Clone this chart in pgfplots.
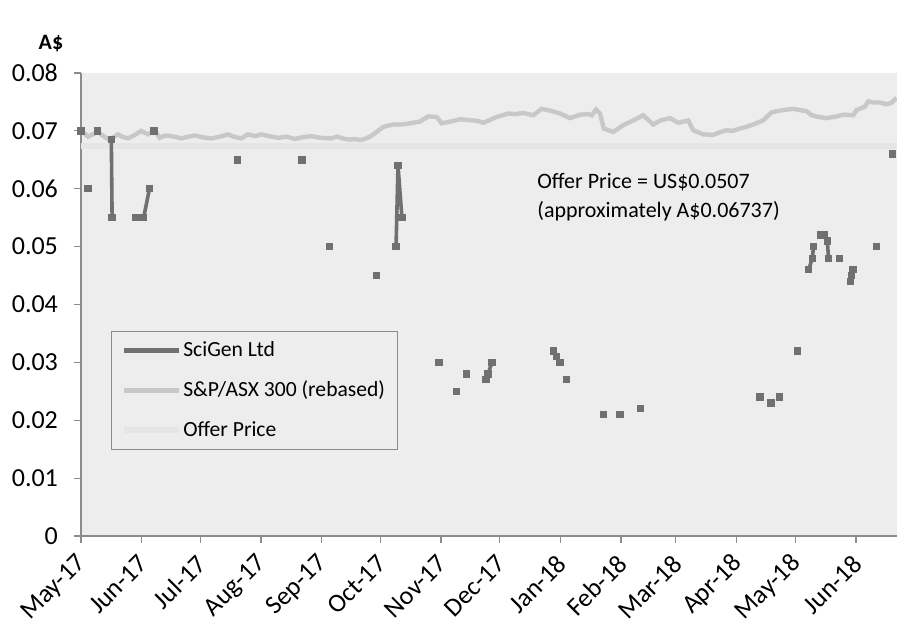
\documentclass[border=0pt]{standalone}
\usepackage{pgfplots}
\pgfplotsset{compat=1.18}
\usepackage{pgfplotstable}
\usepackage{fontspec}
\setmainfont{Carlito}
\definecolor{bgc}{RGB}{237,237,237}
\definecolor{scig}{RGB}{112,112,112}
\definecolor{idxc}{RGB}{200,200,200}
\definecolor{offc}{RGB}{229,229,229}
\definecolor{axc}{RGB}{140,140,140}

\pgfplotstableread{
day val
0 0.070
nan nan
3.6 0.060
nan nan
8.3 0.070
nan nan
15.5 0.0685
15.9 0.055
nan nan
28 0.055
29 0.055
32 0.055
35 0.060
nan nan
37.3 0.070
nan nan
80 0.065
nan nan
113 0.065
nan nan
127 0.050
nan nan
151 0.045
nan nan
161 0.050
162 0.064
164 0.055
nan nan
183 0.030
nan nan
192 0.025
nan nan
197 0.028
nan nan
207 0.027
208 0.028
210 0.030
nan nan
241.4 0.032
243 0.031
244.8 0.030
nan nan
248 0.027
nan nan
267 0.021
nan nan
275.4 0.021
nan nan
286 0.022
nan nan
347 0.024
nan nan
352.7 0.023
nan nan
356.8 0.024
nan nan
366 0.032
nan nan
371.8 0.046
373.8 0.048
374.3 0.050
nan nan
378 0.052
380 0.052
381.4 0.051
382 0.048
nan nan
387.5 0.048
nan nan
393.3 0.044
393.6 0.045
394.6 0.046
nan nan
406.5 0.050
nan nan
414.6 0.066
}\scigen

\pgfplotstableread{
day val
0 0.0701
2 0.0695
3.6 0.0690
6 0.0694
8.7 0.0698
11 0.0692
14.7 0.0684
17 0.0690
18.9 0.0694
21 0.0690
24.0 0.0687
27 0.0692
30.8 0.0700
34.2 0.0694
36 0.0698
37.7 0.0701
40.2 0.0688
43 0.0692
46.1 0.0691
49 0.0689
51.3 0.0687
55 0.0690
58.1 0.0692
62 0.0689
66.6 0.0687
71 0.0690
75.1 0.0694
78 0.0690
81.9 0.0687
85.3 0.0694
89 0.0691
92.1 0.0694
96 0.0691
100.7 0.0688
105 0.0690
109.2 0.0686
113 0.0689
117.7 0.0691
122 0.0688
127.9 0.0687
131 0.0690
134.7 0.0686
137.5 0.0685
140 0.0686
142.6 0.0684
145 0.0686
147.7 0.0690
151 0.0698
154.5 0.0707
157 0.0709
159.6 0.0711
164 0.0711
168.1 0.0713
173.2 0.0716
175 0.0720
177.5 0.0725
181.8 0.0724
184.3 0.0713
188.6 0.0716
193.7 0.0720
197 0.0719
200.3 0.0718
203 0.0717
205.6 0.0714
209 0.0719
212.4 0.0724
218.3 0.0730
222 0.0729
226.0 0.0731
231.1 0.0727
235.4 0.0738
239.7 0.0735
244.8 0.0730
249.9 0.0722
255.0 0.0728
259.2 0.0729
261 0.0727
263.2 0.0737
265.2 0.0730
267.2 0.0704
272.0 0.0698
277.1 0.0710
282.2 0.0718
287.3 0.0727
292.4 0.0711
295.9 0.0718
301.0 0.0722
305.2 0.0714
310.3 0.0718
312.9 0.0701
318.0 0.0694
323.1 0.0693
326 0.0697
329.9 0.0701
333 0.0700
336.7 0.0704
340 0.0707
343.5 0.0711
348.6 0.0718
352.9 0.0732
358.9 0.0736
364.0 0.0738
370.8 0.0734
373.4 0.0727
377 0.0724
381.0 0.0722
386.1 0.0725
389.5 0.0728
394.6 0.0727
396.4 0.0736
400.6 0.0742
402.3 0.0751
405 0.0749
408.3 0.0749
411.7 0.0746
414 0.0748
416.8 0.0757
}\index

\pgfplotstableread{
day val
0 0.06737
417 0.06737
}\offer

\begin{document}
\begin{tikzpicture}
\begin{axis}[
  scale only axis,
  width=408pt, height=231.5pt,
  xmin=0, xmax=417, ymin=0, ymax=0.08,
  axis x line*=bottom, axis y line*=left,
  axis line style={axc, line width=0.6pt},
  axis background/.style={fill=bgc},
  tick align=outside,
  major tick length=3.5pt,
  tick style={axc, line width=0.6pt},
  scaled y ticks=false,
  xtick={0,31,61,92,123,153,184,214,245,276,304,335,365,396},
  xticklabels={May-17,Jun-17,Jul-17,Aug-17,Sep-17,Oct-17,Nov-17,Dec-17,Jan-18,Feb-18,Mar-18,Apr-18,May-18,Jun-18},
  ytick={0,0.01,0.02,0.03,0.04,0.05,0.06,0.07,0.08},
  yticklabels={0,0.01,0.02,0.03,0.04,0.05,0.06,0.07,0.08},
  tick label style={font=\fontsize{13}{15}\selectfont},
  yticklabel style={xshift=-4.5pt},
  xticklabel style={xshift=1.5pt, yshift=-7.5pt, rotate=45, anchor=east, inner sep=1pt},
  unbounded coords=jump,
  clip=false,
  legend style={at={(0.0364,0.4434)}, anchor=north west, draw=axc, fill=none,
    font=\fontsize{10.8}{12}\selectfont, row sep=8.8pt, inner xsep=5pt, inner ysep=4pt,
    nodes={inner sep=1pt}},
  legend cell align=left,
  legend image code/.code={\draw[#1] (0pt,0pt) -- (27.5pt,0pt);},
]
\addlegendimage{scig, line width=2.4pt}
\addlegendentry{SciGen Ltd}
\addlegendimage{idxc, line width=2.4pt}
\addlegendentry{S\&P/ASX 300 (rebased)}
\addlegendimage{offc, line width=2.6pt}
\addlegendentry{Offer Price}
\addplot[offc, line width=2.6pt, forget plot] table[x=day,y=val] {\offer};
\addplot[idxc, line width=2.2pt, forget plot] table[x=day,y=val] {\index};
\addplot[scig, line width=1.8pt, mark=square*, mark size=1.6pt, mark options={solid, fill=scig, draw=scig, line width=0.5pt}, forget plot] table[x=day,y=val] {\scigen};
\node[anchor=west, align=left, font=\fontsize{11}{14.5}\selectfont, inner sep=0pt] at (axis cs:233,0.05846) {Offer Price = US\$0.0507\\(approximately A\$0.06737)};
\node[font=\fontsize{11}{13}\selectfont\bfseries] at (rel axis cs:-0.0368,1.064) {A\$};
\coordinate (bl) at (rel axis cs:-0.09926,-0.1879);
\coordinate (tr) at (rel axis cs:1,1.1577);
\end{axis}
\pgfresetboundingbox
\path[use as bounding box] (bl) rectangle (tr);
\end{tikzpicture}
\end{document}
